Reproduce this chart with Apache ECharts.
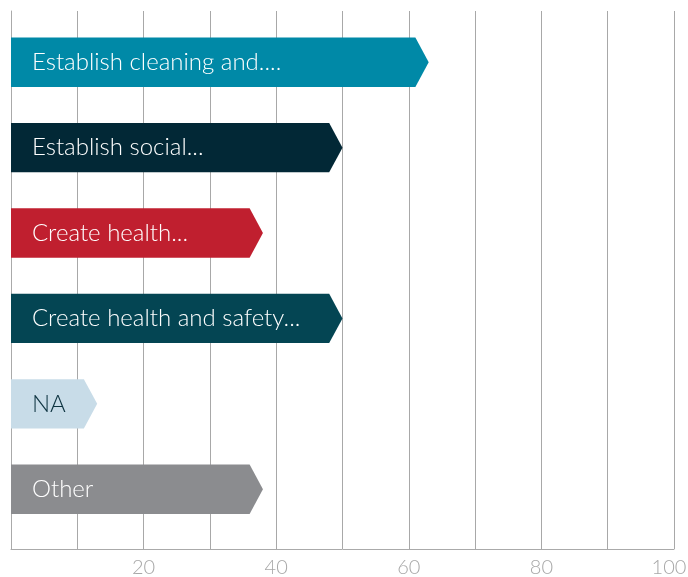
<!DOCTYPE html>
<html>
<head>
<meta charset="utf-8">
<script src="https://cdn.jsdelivr.net/npm/echarts@6/dist/echarts.min.js"></script>
<style>html,body{margin:0;padding:0;background:#fff}#c{width:688px;height:577px}</style>
</head>
<body>
<div id="c"></div>
<script>
var categories = ['Establish cleaning and....', 'Establish social...', 'Create health...', 'Create health and safety...', 'NA', 'Other'];
var values = [63, 50, 38, 50, 13, 38];
var colors = ['#0089a7', '#022836', '#c01f2f', '#044553', '#c8dce8', '#8b8c8f'];
var textColors = ['#ffffff', '#ffffff', '#ffffff', '#ffffff', '#0d3340', '#ffffff'];
var tickValues = [20, 40, 60, 80, 100];

var data = values.map(function (v, i) { return [v, i]; });
var chart = echarts.init(document.getElementById('c'));
chart.setOption({
  animation: false,
  grid: { left: 11, right: 14, top: 11, bottom: 28, containLabel: false, outerBoundsMode: 'none' },
  xAxis: {
    type: 'value', min: 0, max: 100, interval: 10,
    axisLine: { show: true, onZero: false, lineStyle: { color: '#aaaaaa', width: 1 } },
    axisTick: { show: false },
    splitLine: { show: true, lineStyle: { color: '#a8a8a8', width: 1 } },
    axisLabel: {
      margin: 9, fontSize: 20, color: '#a8a8a8', fontFamily: 'Lato', fontWeight: 300,
      formatter: function (v) {
        if (tickValues.indexOf(v) < 0) return '';
        return v === 100 ? '{r|' + v + '}' : String(v);
      },
      rich: { r: { fontSize: 20, color: '#a8a8a8', fontFamily: 'Lato', fontWeight: 300, padding: [0, 10, 0, 0] } }
    }
  },
  yAxis: {
    type: 'value', inverse: true, min: -0.6, max: 5.7,
    axisLine: { show: true, onZero: false, lineStyle: { color: '#aaaaaa', width: 1 } },
    axisTick: { show: false }, axisLabel: { show: false }, splitLine: { show: false }
  },
  series: [{
    type: 'custom',
    data: data,
    renderItem: function (params, api) {
      var v = api.value(0), idx = api.value(1);
      var p0 = api.coord([0, idx]);
      var p1 = api.coord([v, idx]);
      var h = api.size([0, 1])[1] * 0.578;
      var d = 13.3;
      var y = p0[1];
      return {
        type: 'group',
        children: [{
          type: 'polygon',
          shape: { points: [[p0[0], y - h / 2], [p1[0] - d, y - h / 2], [p1[0], y], [p1[0] - d, y + h / 2], [p0[0], y + h / 2]] },
          style: { fill: colors[idx] }
        }, {
          type: 'text',
          x: p0[0] + 21, y: y,
          style: {
            text: categories[idx], fill: textColors[idx], fontSize: 24,
            fontFamily: 'Lato', fontWeight: 300, verticalAlign: 'middle', align: 'left'
          }
        }]
      };
    }
  }]
});
</script>
</body>
</html>
